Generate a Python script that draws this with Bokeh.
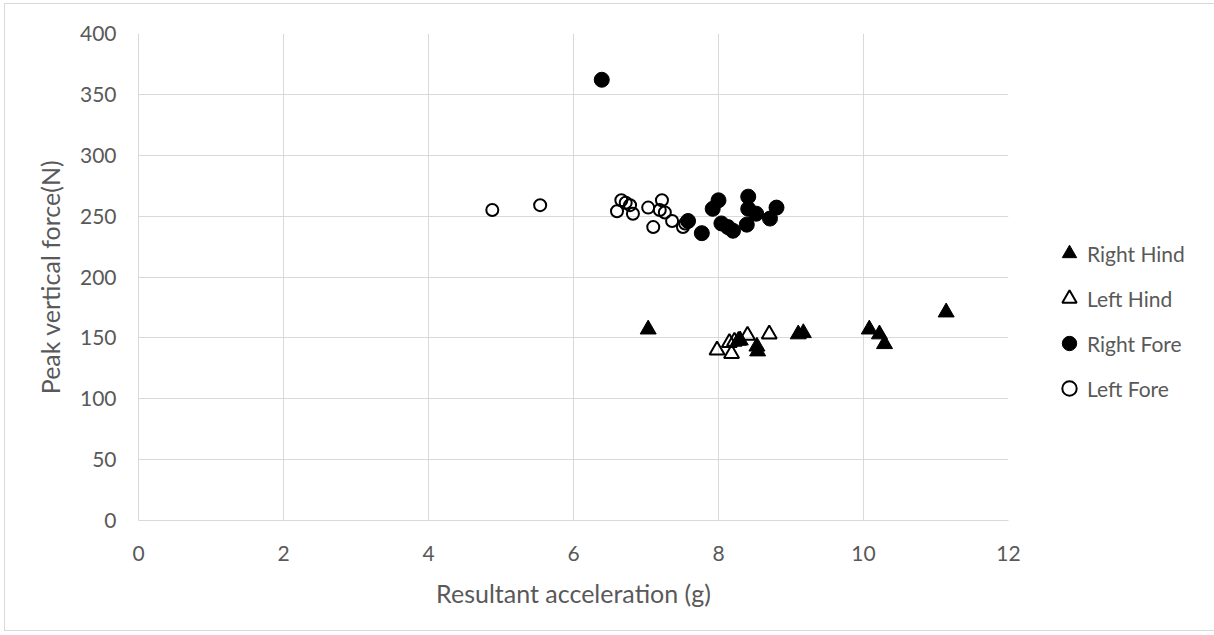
from bokeh.plotting import figure
from bokeh.models import FixedTicker, Range1d, Legend, LegendItem
from bokeh.embed import file_html
from bokeh.resources import INLINE

# ---- data ----
right_hind_x = [7.03, 8.30, 8.53, 8.54, 9.10, 9.17, 10.08, 10.22, 10.29, 11.14]
right_hind_y = [157, 148, 143, 139, 153, 154, 157, 153, 145, 171]

left_hind_x = [7.98, 8.15, 8.18, 8.22, 8.28, 8.40, 8.70]
left_hind_y = [140, 146, 137, 147, 148, 152, 153]

right_fore_x = [6.39, 7.58, 7.77, 7.92, 8.00, 8.04, 8.13, 8.20, 8.39, 8.41, 8.41, 8.52, 8.71, 8.80]
right_fore_y = [362, 246, 236, 256, 263, 244, 241, 238, 243, 256, 266, 252, 248, 257]

left_fore_x = [4.88, 5.54, 6.60, 6.66, 6.72, 6.78, 6.82, 7.03, 7.10, 7.19, 7.22, 7.26, 7.36, 7.51, 7.54]
left_fore_y = [255, 259, 254, 263, 261, 259, 252, 257, 241, 255, 263, 253, 246, 241, 244]

x_ticks = [0, 2, 4, 6, 8, 10, 12]
y_ticks = [0, 50, 100, 150, 200, 250, 300, 350, 400]

FONT = "Lato"
GRID = "#d9d9d9"
TXT = "#595959"

p = figure(width=1200, height=626, output_backend="svg", toolbar_location=None,
           x_range=Range1d(0, 12), y_range=Range1d(0, 400),
           min_border_left=133, min_border_top=29, min_border_right=197, min_border_bottom=110)
p.frame_width = 870
p.frame_height = 487
p.outline_line_color = None
p.styles = {"border": "1px solid #d9d9d9", "margin": "3px 0px 0px 4px"}

for ax in (p.xaxis[0], p.yaxis[0]):
    ax.major_tick_line_color = None
    ax.minor_tick_line_color = None
    ax.axis_line_color = GRID
    ax.major_label_text_font = FONT
    ax.major_label_text_font_size = "21px"
    ax.major_label_text_color = TXT
    ax.axis_label_text_font = FONT
    ax.axis_label_text_font_size = "25px"
    ax.axis_label_text_font_style = "normal"
    ax.axis_label_text_color = TXT

p.xaxis.ticker = FixedTicker(ticks=x_ticks)
p.yaxis.ticker = FixedTicker(ticks=y_ticks)
p.xaxis.axis_label = "Resultant acceleration (g)"
p.yaxis.axis_label = "Peak vertical force(N)"
p.xaxis.major_label_standoff = 19
p.xaxis.axis_label_standoff = 14
p.yaxis.major_label_standoff = 16
p.yaxis.axis_label_standoff = 12

p.xgrid.grid_line_color = GRID
p.ygrid.grid_line_color = GRID
p.xgrid.ticker = FixedTicker(ticks=x_ticks)
p.ygrid.ticker = FixedTicker(ticks=y_ticks)

rh = p.scatter(right_hind_x, right_hind_y, marker="triangle", size=16,
               fill_color="black", line_color="black", line_width=1)
lh = p.scatter(left_hind_x, left_hind_y, marker="triangle", size=15,
               fill_color=None, line_color="black", line_width=2)
rf = p.scatter(right_fore_x, right_fore_y, marker="circle", size=15,
               fill_color="black", line_color="black", line_width=1)
lf = p.scatter(left_fore_x, left_fore_y, marker="circle", size=12,
               fill_color=None, line_color="black", line_width=2)

legend = Legend(items=[
    LegendItem(label="Right Hind", renderers=[rh]),
    LegendItem(label="Left Hind", renderers=[lh]),
    LegendItem(label="Right Fore", renderers=[rf]),
    LegendItem(label="Left Fore", renderers=[lf]),
], location=(43, 114))
legend.border_line_color = None
legend.background_fill_alpha = 0
legend.padding = 0
legend.margin = 0
legend.glyph_width = 36
legend.glyph_height = 36
legend.label_height = 36
legend.spacing = 9
legend.label_standoff = 0
legend.label_text_font = FONT
legend.label_text_font_size = "21px"
legend.label_text_color = TXT
p.add_layout(legend, "right")

open("out.html", "w").write(file_html(p, INLINE))
